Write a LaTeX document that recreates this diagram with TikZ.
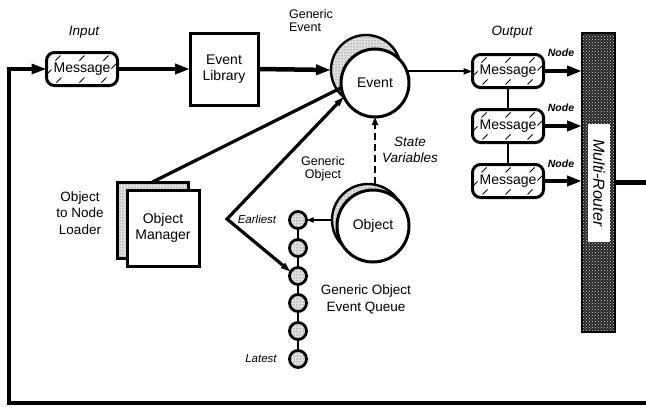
\documentclass[tikz,border=0pt]{standalone}
\usepackage{fontspec}
\setmainfont{Liberation Sans}
\usetikzlibrary{arrows.meta,patterns}

\begin{document}
\begin{tikzpicture}[x=1pt,y=-1pt,
  every node/.style={inner sep=0pt, outer sep=0pt, font=\fontsize{14}{16}\selectfont},
  lab/.style={font=\fontsize{13.5}{15.5}\selectfont\itshape, align=center},
  small/.style={font=\fontsize{12.5}{13}\selectfont, align=left},
  nodelab/.style={font=\fontsize{10.5}{12}\selectfont\bfseries\itshape},
  endlab/.style={font=\fontsize{11.5}{13}\selectfont\itshape},
  msg/.style={draw, line width=3pt, rounded corners=8pt, fill=white,
    minimum width=71pt, minimum height=33pt,
    path picture={
      \foreach \dx/\dy in {-24/-11, 0/-11, 24/-11, -23/11, 0/11, 22/11, -33/3, 32/-3}
        \draw[line width=1pt] ([shift={(\dx-2.5,\dy+2.5)}]path picture bounding box.center) -- ++(5,-5);
    }},
  box/.style={draw, line width=3pt, fill=white, align=center},
  stipple/.style={preaction={fill=black!12}, pattern=dots, pattern color=black!75},
  shade/.style={circle, draw, line width=2.4pt, stipple},
  ball/.style={circle, draw, line width=3pt, fill=white},
  qdot/.style={circle, draw, line width=2.8pt, minimum size=17pt, stipple},
  bigarr/.style={line width=4.5pt, -{Triangle[length=15pt,width=10pt]}},
  thinarr/.style={line width=2pt, -{Triangle[length=9pt,width=6pt]}},
]
\useasboundingbox (0,0) rectangle (646,407);

% input side
\node[lab] at (84,32) {Input};
\node[msg] (inmsg) at (82,69) {Message};
\node[box, minimum width=68pt, minimum height=72pt] (evlib) at (224,69) {Event\\Library};

% generic event
\node[small] at (311,21) {Generic\\Event};
\node[shade, minimum size=70pt] (evsh) at (366,70) {};
\node[ball, minimum size=68pt] (ev) at (375,83) {Event};

% generic object
\node[font=\fontsize{12.5}{13}\selectfont, align=center] at (323,169) {Generic\\Object};
\node[shade, minimum size=72pt] (objsh) at (368,220) {};
\node[ball, minimum size=72pt] (obj) at (373,226) {Object};
\node[lab] at (410,150) {State\\Variables};

% object manager
\node[box, stipple, minimum width=71pt, minimum height=76pt] (mgrback) at (152.5,220) {};
\node[box, minimum width=72pt, minimum height=76pt] (mgr) at (163,228) {Object\\Manager};
\node[align=center, font=\fontsize{13.5}{16.5}\selectfont] at (80,213) {Object\\to Node\\Loader};

% event queue
\foreach \i/\y in {1/220,2/248,3/276,4/303,5/331,6/359}
  \node[qdot] (q\i) at (298,\y) {};
\foreach \a/\b in {1/2,2/3,3/4,4/5,5/6}
  \draw[line width=2pt] (q\a) -- (q\b);
\node[endlab] at (257,219) {Earliest};
\node[endlab] at (261,359) {Latest};
\node[align=center, font=\fontsize{13.5}{17}\selectfont] at (366,299) {Generic Object\\Event Queue};
\coordinate (apex) at (227,219);

% output side
\node[lab] at (512,32) {Output};
\node[msg] (out1) at (508,71) {Message};
\node[msg] (out2) at (508,126) {Message};
\node[msg] (out3) at (508,181) {Message};
\node[nodelab] at (561,53) {Node};
\node[nodelab] at (561,108) {Node};
\node[nodelab] at (561,164) {Node};

% multi-router
\node[draw, line width=2.8pt, preaction={fill=black!85}, pattern=crosshatch dots,
  pattern color=white!85!black, minimum width=33pt, minimum height=299pt] (router) at (598.5,182.5) {};
\node[fill=white, rotate=-90, minimum width=118pt, minimum height=22pt,
  font=\fontsize{16}{18}\selectfont\itshape] (rlab) at (599,183) {Multi-Router};

\coordinate (outR) at (646,182.5);
\coordinate (botR) at (646,403);
\coordinate (loopL) at (9,69);

% connectors
\draw[line width=3.2pt, -{Triangle[length=15pt,width=10pt]}] (botR) -| (loopL) -- (inmsg.west);
\draw[bigarr] (inmsg.east) -- (evlib.west);
\draw[bigarr] (evlib.east) -- (evsh.west);
\draw[thinarr] (ev.20) -- (ev.20 -| out1.west);
\draw[line width=2pt] (out1) -- (out2);
\draw[line width=2pt] (out2) -- (out3);
\draw[bigarr] (out1.east) -- (out1.east -| router.west);
\draw[bigarr] (out2.east) -- (out2.east -| router.west);
\draw[bigarr] (out3.east) -- (out3.east -| router.west);
\draw[line width=5pt] (router.east) -- (outR);
\draw[line width=3.2pt] (mgrback.north) -- (ev.188);
\draw[line width=3.2pt, {Triangle[length=10pt,width=6pt]}-{Triangle[length=10pt,width=6pt]}]
  (ev.204) -- (apex) -- (q3.150);
\draw[line width=2pt, -{Triangle[length=7pt,width=5pt]}] (objsh.west) -- (q1.east);
\draw[line width=2.4pt, dash pattern=on 7pt off 4pt, -{Triangle[length=8pt,width=6pt]}]
  (ev.south |- objsh.north) -- (ev.south);
\end{tikzpicture}
\end{document}
